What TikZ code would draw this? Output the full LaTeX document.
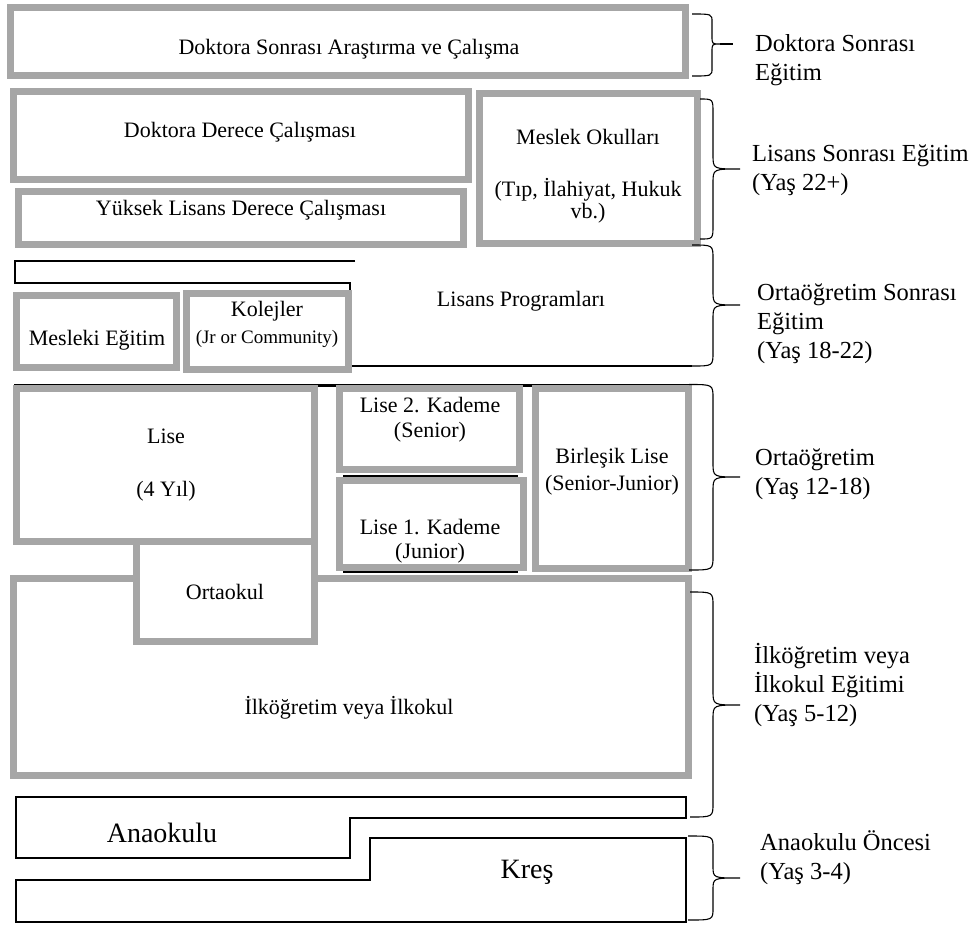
\documentclass[tikz,border=0pt]{standalone}
\usepackage{fontspec}
\setmainfont{Liberation Serif}
\definecolor{gframe}{RGB}{166,166,166}
\tikzset{
 gbox/.style={draw=gframe, line width=7pt, fill=white},
 thinl/.style={draw=black, line width=1.3pt},
 brc/.style={draw=black, line width=1.1pt},
 bt/.style={font=\fontsize{22}{26}\selectfont, inner sep=0pt},
 st/.style={font=\fontsize{19}{22}\selectfont, inner sep=0pt},
 bigt/.style={font=\fontsize{28}{32}\selectfont, inner sep=0pt},
 lab/.style={font=\fontsize{24.5}{29}\selectfont, align=left, anchor=west, inner sep=0pt},
}
% x0 x1 x2 ytop ymid ybot r
\newcommand{\cbrace}[7]{%
 \draw[brc] (#1,#4) .. controls (#2,#4) and (#2,#4) .. (#2,#4+#7) -- (#2,#5-#7)
   .. controls (#2,#5) and (#2,#5) .. (#3,#5)
   .. controls (#2,#5) and (#2,#5) .. (#2,#5+#7) -- (#2,#6-#7)
   .. controls (#2,#6) and (#2,#6) .. (#1,#6);}
\begin{document}
\begin{tikzpicture}[x=1pt,y=-1pt]
\useasboundingbox[fill=white] (0,0) rectangle (979,924);

% top section
\draw[gbox] (10.5,7.5) rectangle (685.5,75.5);
\node[bt] (dsa) at (349,49) {Doktora Sonrası Araştırma ve Çalışma};

\draw[gbox] (13.5,91.5) rectangle (468.5,179.5);
\node[bt] (ddc) at (240,132) {Doktora Derece Çalışması};
\draw[gbox] (18.5,191.5) rectangle (463.5,244.5);
\node[bt] (ylc) at (241,210) {Yüksek Lisans Derece Çalışması};
\draw[gbox] (479.5,93.5) rectangle (697.5,243.5);
\node[bt] (mo1) at (588,137) {Meslek Okulları};
\node[bt] (mo2) at (588,190) {(Tıp, İlahiyat, Hukuk};
\node[bt] (mo3) at (588,213) {vb.)};

% Lisans programlari
\draw[thinl] (355,261) -- (15,261) -- (15,283) -- (350,283) -- (350,290);
\draw[thinl] (350,366) -- (692,366);
\node[bt] (lp) at (521,301) {Lisans Programları};
\draw[gbox] (16.5,295.5) rectangle (176.5,367.5);
\node[bt] (me) at (97,340) {Mesleki Eğitim};
\draw[gbox] (186.5,293.5) rectangle (348.5,369.5);
\node[bt] (ko1) at (267,311) {Kolejler};
\node[st] (ko2) at (267,339) {(Jr or Community)};

% Ortaogretim
\draw[gbox] (13.5,578.5) rectangle (688.5,775.5);
\node[bt] (ilk) at (349,708) {İlköğretim veya İlkokul};
\draw[gbox] (16.5,388.5) rectangle (314.5,541.5);
\node[bt] (lis1) at (166,436) {Lise};
\node[bt] (lis2) at (166,491) {(4 Yıl)};
\draw[gbox] (136.5,541.5) rectangle (314.5,641.5);
\node[bt] (ort) at (225,592) {Ortaokul};
\draw[gbox] (339.5,388.5) rectangle (519.5,469.5);
\node[bt] (l2a) at (430,405) {Lise 2. Kademe};
\node[bt] (l2b) at (430,432) {(Senior)};
\draw[gbox] (339.5,480.5) rectangle (523.5,567.5);
\node[bt] (l1a) at (430,527) {Lise 1. Kademe};
\node[bt] (l1b) at (430,553) {(Junior)};
\draw[gbox] (535.5,388.5) rectangle (688.5,568.5);
\node[bt] (bla) at (612,458) {Birleşik Lise};
\node[bt] (blb) at (612,485) {(Senior-Junior)};
\draw[thinl] (14,384.5) -- (689,384.5);
\draw[black, line width=3pt] (318,385.5) -- (336,385.5);
\draw[black, line width=3pt] (523,385.5) -- (532,385.5);
\draw[thinl] (343,476) -- (518,476);
\draw[thinl] (343,572) -- (518,572);

% Anaokulu, Kres
\draw[thinl] (16,797) -- (686,797) -- (686,818) -- (350,818) -- (350,858) -- (16,858) -- cycle;
\node[bigt] (ana) at (162,833) {Anaokulu};
\draw[thinl] (370,838) -- (686,838) -- (686,922) -- (16,922) -- (16,880) -- (370,880) -- cycle;
\node[bigt] (kres) at (527,872) {Kreş};

% braces
\cbrace{692}{712}{720}{14}{44}{76}{8}
\draw[brc] (720,44) -- (733,44);
\cbrace{700}{713}{740}{99}{169}{239}{14}
\cbrace{692}{713}{740}{245}{305}{366}{14}
\cbrace{689}{713}{740}{384.5}{477}{570}{14}
\cbrace{690}{713}{740}{592}{705}{817}{14}
\cbrace{688}{713}{740}{836}{878}{920}{12}

% labels
\node[lab] (l1) at (755,60) {Doktora Sonrası\\Eğitim};
\node[lab] (l2) at (752,170) {Lisans Sonrası Eğitim\\(Yaş 22+)};
\node[lab] (l3) at (757,324) {Ortaöğretim Sonrası\\Eğitim\\(Yaş 18-22)};
\node[lab] (l4) at (755,474) {Ortaöğretim\\(Yaş 12-18)};
\node[lab] (l5) at (754,685) {İlköğretim veya\\İlkokul Eğitimi\\(Yaş 5-12)};
\node[lab] (l6) at (760,858) {Anaokulu Öncesi\\(Yaş 3-4)};
\end{tikzpicture}
\end{document}
